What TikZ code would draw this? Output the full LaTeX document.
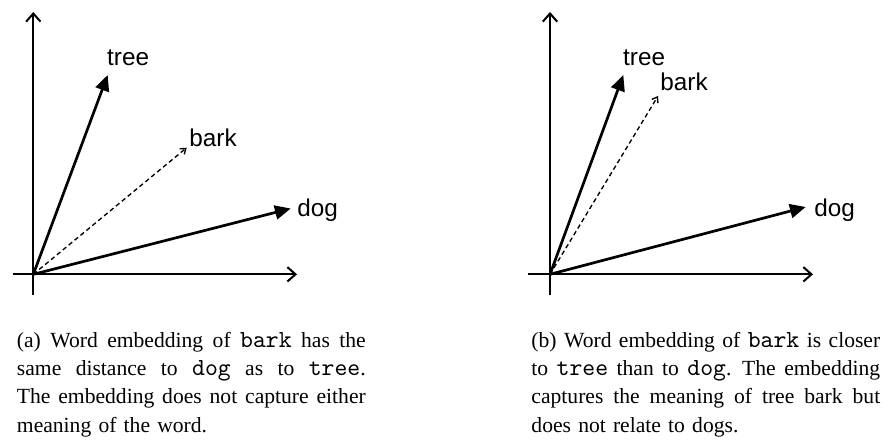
\documentclass[tikz,border=0pt]{standalone}
\usepackage{fontspec}
\setmainfont{Liberation Serif}
\setsansfont{Liberation Sans}
\usetikzlibrary{arrows.meta}

% caption column width; each caption line is a box of that width
% whose interword spaces stretch to fill it
\newlength{\capwd}
\setlength{\capwd}{155pt}
\newcommand{\fullline}[1]{\hbox to\capwd{\spaceskip=.25em plus .8em minus .09em #1}}
\newcommand{\lastline}[1]{\hbox{#1}}
% words set in typewriter type inside the captions
\newcommand{\wordtt}[1]{{\fontsize{10.9}{12.6}\selectfont\ttfamily #1}}

\tikzset{
  axis/.style={line width=0.9pt, -{Straight Barb[length=3.6pt,width=6.4pt]}},
  vec/.style={line width=1.2pt, -{Triangle[length=7pt,width=6.2pt]}},
  guess/.style={line width=0.6pt, dash pattern=on 2pt off 1.4pt,
    -{Straight Barb[length=2.2pt,width=3.2pt]}},
  word/.style={inner sep=0pt, anchor=base west, font=\fontsize{10.8}{13}\selectfont\sffamily},
  caption/.style={inner sep=0pt, anchor=base west, text width=\capwd,
    font=\fontsize{9.6}{12.6}\selectfont}
}

\begin{document}
\begin{tikzpicture}[x=0.4444pt,y=-0.4444pt]
  \useasboundingbox (0,0) rectangle (882,441);

  % ---- left panel: bark halfway between tree and dog ----
  \coordinate (oA) at (33.3,274.3);
  \coordinate (xA0) at (12.7,274.3);
  \coordinate (xA1) at (297,274.3);
  \coordinate (yA0) at (33.3,295);
  \coordinate (yA1) at (33.3,12);
  \draw[axis] (xA0) -- (xA1);
  \draw[axis] (yA0) -- (yA1);

  \coordinate (treeA) at (107.7,75);
  \coordinate (barkA) at (186.7,147.7);
  \coordinate (dogA) at (290.7,208.5);
  \draw[vec] (oA) -- (treeA);
  \draw[guess] (oA) -- (barkA);
  \draw[vec] (oA) -- (dogA);

  \node[word] (ltreeA) at (106.7,65) {tree};
  \node[word] (lbarkA) at (189,146.7) {bark};
  \node[word] (ldogA) at (297,216) {dog};

  \node[caption] (capA) at (16.5,347) {%
    \fullline{(a) Word embedding of \wordtt{bark} has the}
    \fullline{same distance to \wordtt{dog} as to \wordtt{tree}.}
    \fullline{The embedding does not capture either}
    \lastline{meaning of the word.}};

  % ---- right panel: bark close to tree ----
  \coordinate (oB) at (550,274.3);
  \coordinate (xB0) at (528,274.3);
  \coordinate (xB1) at (813,274.3);
  \coordinate (yB0) at (550,295);
  \coordinate (yB1) at (550,12);
  \draw[axis] (xB0) -- (xB1);
  \draw[axis] (yB0) -- (yB1);

  \coordinate (treeB) at (623.3,75);
  \coordinate (barkB) at (658,96);
  \coordinate (dogB) at (805.7,207);
  \draw[vec] (oB) -- (treeB);
  \draw[guess] (oB) -- (barkB);
  \draw[vec] (oB) -- (dogB);

  \node[word] (ltreeB) at (622.7,65) {tree};
  \node[word] (lbarkB) at (660,90) {bark};
  \node[word] (ldogB) at (814,216) {dog};

  \node[caption] (capB) at (531,347) {%
    \fullline{(b) Word embedding of \wordtt{bark} is closer}
    \fullline{to \wordtt{tree} than to \wordtt{dog}. The embedding}
    \fullline{captures the meaning of tree bark but}
    \lastline{does not relate to dogs.}};
\end{tikzpicture}
\end{document}
